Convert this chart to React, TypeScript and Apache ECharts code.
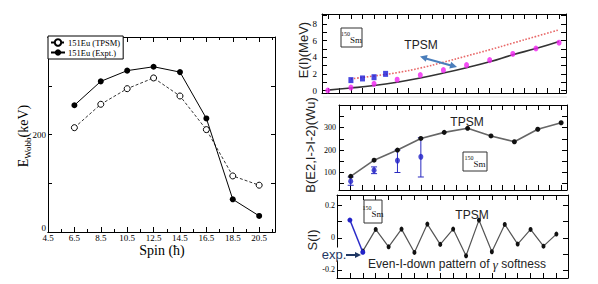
import React, { useEffect, useRef } from 'react';
import * as echarts from 'echarts';

// ---------- Left chart: 151Eu wobbling energy ----------
const spins = [6.5, 8.5, 10.5, 12.5, 14.5, 16.5, 18.5, 20.5];
const wobbTPSM = [214, 262, 294, 316, 279, 210, 115, 96];
const wobbExpt = [260, 309, 331, 339, 328, 233, 67, 33];
const leftXLabels = [4.5, 6.5, 8.5, 10.5, 12.5, 14.5, 16.5, 18.5, 20.5];
const leftXMinor = [5.5, 7.5, 9.5, 11.5, 13.5, 15.5, 17.5, 19.5, 21.5];
const leftYLabels = [200];
const leftYZeroLabel = [0];
const leftYTicks = [0, 100, 200, 300];

// ---------- Panel 1: 150Sm E(I) ----------
const evenSpins = [0, 2, 4, 6, 8, 10, 12, 14, 16, 18, 20];
const eYrastTPSM = [0.05, 0.3, 0.6, 1.0, 1.5, 2.1, 2.75, 3.45, 4.3, 5.05, 5.9];
const eYrastExp = [0.0, 0.35, 0.8, 1.3, 1.85, 2.45, 3.05, 3.65, 4.4, 5.05, 5.75];
const gammaSpins = [2, 4, 6, 8, 10, 12, 14, 16, 18, 20];
const eGammaTPSM = [1.4, 1.75, 2.15, 2.7, 3.4, 4.15, 4.9, 5.7, 6.5, 7.3];
const gammaExpSpins = [2, 3, 4, 5];
const eGammaExp = [1.25, 1.45, 1.6, 2.0];
const p1YLabels = [0, 2, 4, 6, 8];
const p1YTicks = [0, 1, 2, 3, 4, 5, 6, 7, 8, 9];
const p1XTicks = [0, 1, 2, 3, 4, 5, 6, 7, 8, 9, 10, 11, 12, 13, 14, 15, 16, 17, 18, 19, 20];

// ---------- Panel 2: B(E2) ----------
const be2Spins = [2, 4, 6, 8, 10, 12, 14, 16, 18, 20];
const be2TPSM = [83, 155, 200, 252, 279, 297, 263, 237, 293, 322];
const be2ExpSpins = [2, 4, 6, 8];
const be2Exp = [61, 110, 153, 170];
const be2ExpLow = [43, 95, 100, 80];
const be2ExpHigh = [80, 125, 200, 255];
const p2YLabels = [100, 200, 300];
const p2YTicks = [50, 100, 150, 200, 250, 300, 350, 400];
const p2XTicks = [1, 2, 3, 4, 5, 6, 7, 8, 9, 10, 11, 12, 13, 14, 15, 16, 17, 18, 19, 20];

// ---------- Panel 3: S(I) ----------
const sSpins = [3, 4, 5, 6, 7, 8, 9, 10, 11, 12, 13, 14, 15, 16, 17, 18];
const sTPSM = [-0.083, 0.052, -0.056, 0.054, -0.091, 0.085, -0.041, 0.054, -0.112, 0.11, -0.087, 0.083, -0.039, 0.052, -0.052, 0.023];
const sExpSpins = [2, 3];
const sExp = [0.11, -0.09];
const p3YLabels = [-0.2, 0, 0.2];
const p3YTicks = [-0.2, -0.1, 0, 0.1, 0.2];
const p3XTicks = [1, 2, 3, 4, 5, 6, 7, 8, 9, 10, 11, 12, 13, 14, 15, 16, 17, 18];

const SERIF = "'Liberation Serif', 'DejaVu Serif', serif";
const SANS = "'Liberation Sans', Arial, sans-serif";

const zip = (xs: number[], ys: number[]) => xs.map((x, i) => [x, ys[i]]);

function axis(gridIndex: number, position: string, min: number, max: number, ticks: number[], labels: number[] | null, tickLen = 4, fontSize = 9, margin = 4, extraLabel: any = {}) {
  return {
    type: 'value',
    gridIndex,
    position,
    min,
    max,
    axisLine: { show: true, onZero: false, lineStyle: { color: '#000', width: 1 } },
    axisTick: { show: ticks.length > 0, inside: true, length: tickLen, customValues: ticks, lineStyle: { color: '#000', width: 1 } },
    axisLabel: labels
      ? { show: true, customValues: labels, fontFamily: SERIF, fontSize, color: '#000', margin, ...extraLabel }
      : { show: false },
    splitLine: { show: false },
  };
}

function arrowHead(x1: number, y1: number, x2: number, y2: number, s: number, color: string) {
  const dx = x2 - x1, dy = y2 - y1;
  const len = Math.sqrt(dx * dx + dy * dy);
  const ux = dx / len, uy = dy / len;
  const px = -uy, py = ux;
  return {
    type: 'polygon',
    shape: {
      points: [
        [x2, y2],
        [x2 - s * ux + s * 0.5 * px, y2 - s * uy + s * 0.5 * py],
        [x2 - s * ux - s * 0.5 * px, y2 - s * uy - s * 0.5 * py],
      ],
    },
    style: { fill: color },
    z: 20,
  };
}

function smBox(x: number, y: number, w: number, h: number) {
  return [
    { type: 'rect', shape: { x, y, width: w, height: h }, style: { fill: '#fff', stroke: '#333', lineWidth: 1 }, z: 15 },
    {
      type: 'text', x: x + w / 2, y: y + h / 2,
      style: {
        text: '{s|150}{m|Sm}',
        align: 'center', verticalAlign: 'middle',
        rich: {
          s: { fontSize: 6, fontFamily: SERIF, fill: '#111', verticalAlign: 'top', padding: [0, 0, 6, 0] },
          m: { fontSize: 9, fontFamily: SERIF, fill: '#111', verticalAlign: 'top', padding: [5, 0, 0, 0] },
        },
      },
      z: 16,
    },
  ];
}

export default function App() {
  const ref = useRef<HTMLDivElement>(null);

  useEffect(() => {
    if (!ref.current) return;
    const chart = echarts.init(ref.current, undefined, { renderer: 'svg' });

    const xAxis = [
      axis(0, 'bottom', 4.5, 21.7, leftXLabels, leftXLabels, 5, 9, 1), // 0
      axis(0, 'bottom', 4.5, 21.7, leftXMinor, null, 3), // 1
      axis(0, 'top', 4.5, 21.7, leftXLabels, null, 5), // 2
      axis(0, 'top', 4.5, 21.7, leftXMinor, null, 3), // 3
      axis(1, 'bottom', -0.5, 20.6, p1XTicks, null, 5), // 4
      axis(1, 'top', -0.5, 20.6, p1XTicks, null, 5), // 5
      axis(2, 'bottom', 1, 20.5, p2XTicks, null, 5), // 6
      axis(2, 'top', 1, 20.5, p2XTicks, null, 5), // 7
      axis(3, 'bottom', 1, 18.9, p3XTicks, null, 5), // 8
      axis(3, 'top', 1, 18.9, p3XTicks, null, 5), // 9
    ];
    const yAxis = [
      axis(0, 'left', 0, 400, leftYTicks, leftYLabels, 4, 9, 2), // 0
      axis(0, 'right', 0, 400, leftYTicks, null, 4), // 1
      axis(1, 'left', -0.3, 9.2, p1YTicks, p1YLabels, 5, 9, 5), // 2
      axis(1, 'right', -0.3, 9.2, p1YTicks, null, 5), // 3
      axis(2, 'left', 22, 401, p2YTicks, p2YLabels, 5, 8, 3), // 4
      axis(2, 'right', 22, 401, p2YTicks, null, 5), // 5
      axis(3, 'left', -0.25, 0.266, p3YTicks, p3YLabels, 5, 8, 2), // 6
      axis(3, 'right', -0.25, 0.266, p3YTicks, null, 5), // 7
      axis(0, 'left', 0, 400, [], leftYZeroLabel, 4, 9, 2, { verticalAlign: 'bottom' }), // 8
    ];

    const noEmph = { disabled: true };

    const series: any[] = [
      {
        name: '151Eu (TPSM)', type: 'line', xAxisIndex: 0, yAxisIndex: 0,
        data: zip(spins, wobbTPSM), symbol: 'circle', symbolSize: 6,
        itemStyle: { color: '#fff', borderColor: '#000', borderWidth: 1 },
        lineStyle: { color: '#000', width: 0.8, type: [3, 2] }, emphasis: noEmph, z: 3,
      },
      {
        name: '151Eu (Expt.)', type: 'line', xAxisIndex: 0, yAxisIndex: 0,
        data: zip(spins, wobbExpt), symbol: 'circle', symbolSize: 6,
        itemStyle: { color: '#000' },
        lineStyle: { color: '#000', width: 1 }, emphasis: noEmph, z: 4,
      },
      // Panel 1
      {
        name: 'yrast TPSM', type: 'line', xAxisIndex: 4, yAxisIndex: 2,
        data: zip(evenSpins, eYrastTPSM), smooth: true, symbol: 'none',
        lineStyle: { color: '#333', width: 1.6 }, emphasis: noEmph, z: 2,
      },
      {
        name: 'gamma TPSM', type: 'line', xAxisIndex: 4, yAxisIndex: 2,
        data: zip(gammaSpins, eGammaTPSM), smooth: true, symbol: 'none',
        lineStyle: { color: '#e86868', width: 1.6, type: 'dotted' }, emphasis: noEmph, z: 2,
      },
      {
        name: 'yrast exp', type: 'scatter', xAxisIndex: 4, yAxisIndex: 2,
        data: zip(evenSpins, eYrastExp), symbol: 'circle', symbolSize: [5, 6],
        itemStyle: { color: '#f022f0' }, emphasis: noEmph, z: 5,
      },
      {
        name: 'gamma exp', type: 'scatter', xAxisIndex: 4, yAxisIndex: 2,
        data: zip(gammaExpSpins, eGammaExp), symbol: 'rect', symbolSize: [5, 6],
        itemStyle: { color: '#1a1ad8' }, emphasis: noEmph, z: 5,
      },
      // Panel 2
      {
        name: 'BE2 TPSM', type: 'line', xAxisIndex: 6, yAxisIndex: 4,
        data: zip(be2Spins, be2TPSM), symbol: 'circle', symbolSize: 5,
        itemStyle: { color: '#111' }, lineStyle: { color: '#666', width: 1.6 }, emphasis: noEmph, z: 4,
      },
      {
        name: 'BE2 err', type: 'custom', xAxisIndex: 6, yAxisIndex: 4,
        data: be2ExpSpins.map((x, i) => [x, be2ExpLow[i], be2ExpHigh[i]]),
        encode: { x: 0, y: [1, 2] },
        renderItem: (_p: any, api: any) => {
          const x = api.value(0), lo = api.value(1), hi = api.value(2);
          const a = api.coord([x, lo]);
          const b = api.coord([x, hi]);
          const w = 3;
          const st = { stroke: '#2a2ac0', lineWidth: 1 };
          return {
            type: 'group',
            children: [
              { type: 'line', shape: { x1: a[0], y1: a[1], x2: b[0], y2: b[1] }, style: st },
              { type: 'line', shape: { x1: a[0] - w, y1: a[1], x2: a[0] + w, y2: a[1] }, style: st },
              { type: 'line', shape: { x1: b[0] - w, y1: b[1], x2: b[0] + w, y2: b[1] }, style: st },
            ],
          };
        },
        z: 3,
      },
      {
        name: 'BE2 exp', type: 'scatter', xAxisIndex: 6, yAxisIndex: 4,
        data: zip(be2ExpSpins, be2Exp), symbol: 'circle', symbolSize: [5, 6],
        itemStyle: { color: '#2222c8' }, emphasis: noEmph, z: 5,
      },
      // Panel 3
      {
        name: 'S TPSM', type: 'line', xAxisIndex: 8, yAxisIndex: 6,
        data: zip(sSpins, sTPSM), symbol: 'circle', symbolSize: [4, 5],
        itemStyle: { color: '#111' }, lineStyle: { color: '#555', width: 1.2 }, emphasis: noEmph, z: 4,
      },
      {
        name: 'S exp', type: 'line', xAxisIndex: 8, yAxisIndex: 6,
        data: zip(sExpSpins, sExp), symbol: 'circle', symbolSize: 5,
        itemStyle: { color: '#2222c8' }, lineStyle: { color: '#2a2ac8', width: 1.5 }, emphasis: noEmph, z: 5,
      },
    ];

    const arrowBlue = '#4a7ebb';
    const navy = '#1f3864';

    const graphic: any[] = [
      // Left chart axis titles
      {
        type: 'text', x: 24, y: 136, rotation: Math.PI / 2,
        style: {
          text: '{a|E}{b|Wobb}{a|(keV)}',
          align: 'center', verticalAlign: 'middle',
          rich: {
            a: { fontSize: 14, fontFamily: SERIF, fill: '#000', verticalAlign: 'top' },
            b: { fontSize: 9, fontFamily: SERIF, fill: '#000', verticalAlign: 'top', padding: [7, 0, 0, 0] },
          },
        },
      },
      {
        type: 'text', x: 162, y: 250,
        style: { text: 'Spin (ħ)', fontSize: 14, fontFamily: SERIF, fill: '#000', align: 'center', verticalAlign: 'middle' },
      },
      // Right panel axis titles
      {
        type: 'text', x: 303, y: 50, rotation: Math.PI / 2,
        style: { text: 'E(I)(MeV)', fontSize: 13, fontFamily: SANS, fill: '#222', align: 'center', verticalAlign: 'middle' },
      },
      {
        type: 'text', x: 310, y: 145, rotation: Math.PI / 2,
        style: { text: 'B(E2,I->I-2)(Wu)', fontSize: 13, fontFamily: SANS, fill: '#222', align: 'center', verticalAlign: 'middle' },
      },
      {
        type: 'text', x: 312, y: 240, rotation: Math.PI / 2,
        style: { text: 'S(I)', fontSize: 13, fontFamily: SANS, fill: '#222', align: 'center', verticalAlign: 'middle' },
      },
      // faint separator above panel 2
      { type: 'line', shape: { x1: 323, y1: 97, x2: 567, y2: 97 }, style: { stroke: '#e2e2e2', lineWidth: 1 } },
      // TPSM labels
      { type: 'text', x: 421, y: 45, style: { text: 'TPSM', fontSize: 12, fontFamily: SANS, fill: '#222', align: 'center', verticalAlign: 'middle' }, z: 16 },
      { type: 'text', x: 467, y: 122, style: { text: 'TPSM', fontSize: 12, fontFamily: SANS, fill: '#222', align: 'center', verticalAlign: 'middle' }, z: 16 },
      { type: 'text', x: 472, y: 215, style: { text: 'TPSM', fontSize: 12, fontFamily: SANS, fill: '#222', align: 'center', verticalAlign: 'middle' }, z: 16 },
      // 150Sm boxes
      ...smBox(341, 28, 21, 19),
      ...smBox(463, 152, 24, 19),
      ...smBox(364, 200, 18, 23),
      // blue double arrow in panel 1
      { type: 'line', shape: { x1: 424, y1: 58, x2: 452, y2: 65.8 }, style: { stroke: arrowBlue, lineWidth: 2 }, z: 20 },
      arrowHead(440, 62, 420, 56.5, 7, arrowBlue),
      arrowHead(436, 61.5, 457, 67, 7, arrowBlue),
      // exp. annotation in panel 3
      {
        type: 'text', x: 334, y: 254,
        style: { text: 'exp.', fontSize: 13, fontFamily: SANS, fill: navy, align: 'center', verticalAlign: 'middle', backgroundColor: '#fff', padding: [0, 1] },
        z: 18,
      },
      { type: 'line', shape: { x1: 346, y1: 255, x2: 356, y2: 255 }, style: { stroke: navy, lineWidth: 2 }, z: 20 },
      arrowHead(346, 255, 361, 255, 6, navy),
      {
        type: 'text', x: 457, y: 264,
        style: {
          text: '{n|Even-I-down pattern of }{g|γ}{n| softness}',
          align: 'center', verticalAlign: 'middle',
          rich: {
            n: { fontSize: 12, fontFamily: SANS, fill: '#222' },
            g: { fontSize: 13, fontFamily: SERIF, fontStyle: 'italic', fill: '#222' },
          },
        },
        z: 16,
      },
    ];

    chart.setOption({
      animation: false,
      backgroundColor: '#fff',
      grid: [
        { left: 48, top: 37, width: 227, height: 195 },
        { left: 322, top: 14, width: 244, height: 79 },
        { left: 339, top: 105, width: 228, height: 85 },
        { left: 337, top: 195, width: 231, height: 83 },
      ],
      legend: {
        data: ['151Eu (TPSM)', '151Eu (Expt.)'],
        left: 48, top: 36, orient: 'vertical',
        padding: [2, 3, 2, 2], itemGap: 1, itemWidth: 14, itemHeight: 8,
        borderColor: '#000', borderWidth: 1, backgroundColor: '#fff',
        textStyle: { fontFamily: SERIF, fontSize: 8.5, color: '#000', padding: [0, 0, 0, -2] },
        selectedMode: false,
      },
      xAxis,
      yAxis,
      series,
      graphic,
    });

    return () => chart.dispose();
  }, []);

  return (
    <div
      ref={ref}
      style={{ position: 'fixed', left: 0, top: 0, width: 598, height: 284, background: '#fff' }}
    />
  );
}
